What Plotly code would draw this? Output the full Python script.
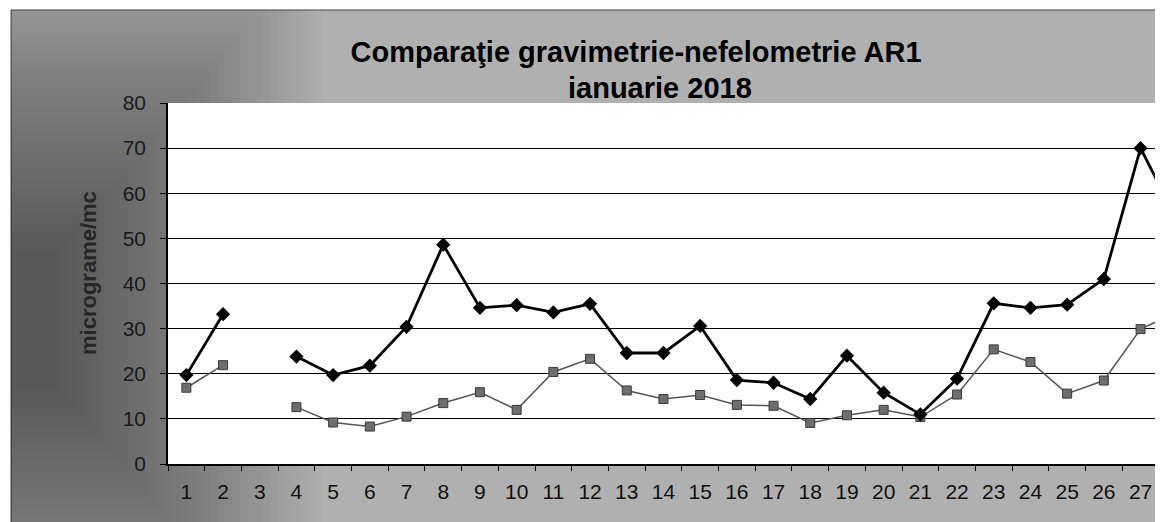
import plotly.graph_objects as go

days = list(range(1, 29))
gravimetrie = [19.7, 33.2, None, 23.8, 19.7, 21.8, 30.4, 48.6, 34.6, 35.2, 33.6, 35.5, 24.6, 24.6,
               30.6, 18.6, 18.0, 14.4, 24.0, 15.8, 11.0, 18.9, 35.6, 34.6, 35.3, 41.0, 70.0, 54.0]
nefelometrie = [16.9, 21.9, None, 12.6, 9.2, 8.3, 10.5, 13.5, 15.9, 12.0, 20.4, 23.3, 16.3, 14.4,
                15.3, 13.1, 12.9, 9.1, 10.8, 12.0, 10.4, 15.4, 25.4, 22.6, 15.6, 18.5, 29.9, 33.7]
y_ticks = [0, 10, 20, 30, 40, 50, 60, 70, 80]
title_line1 = "Comparaţie gravimetrie-nefelometrie AR1"
title_line2 = "ianuarie 2018"
y_title = "micrograme/mc"

OFF = 8  # page body margin
W, H = 1163 - OFF, 522 - OFF
L, R, T, B = 168 - OFF, 0, 103 - OFF, 58
PW, PH = W - L - R, H - T - B


def px(x):
    return (x - OFF - L) / PW


def py(y):
    return (H - B - (y - OFF)) / PH


fig = go.Figure()
fig.add_trace(go.Scatter(
    x=days, y=nefelometrie, mode="lines+markers", name="nefelometrie",
    line=dict(color="#555555", width=1.5),
    marker=dict(symbol="square", size=9, color="#6e6e6e", line=dict(color="#3a3a3a", width=1)),
    connectgaps=False))
fig.add_trace(go.Scatter(
    x=days, y=gravimetrie, mode="lines+markers", name="gravimetrie",
    line=dict(color="#000000", width=2.8),
    marker=dict(symbol="diamond", size=11, color="#000000"),
    connectgaps=False))

shapes = []
shapes.append(dict(type="rect", xref="paper", yref="paper", x0=px(11), x1=px(1175), y0=py(540), y1=py(10),
                   fillcolor="#b0b0b0", line=dict(color="#444444", width=1), layer="below"))
N = 36
for k in range(N):
    a = 30 + 7.5 * k
    b = 70 + 9 * k
    cx, cy = 30, 320
    shapes.append(dict(type="rect", xref="paper", yref="paper",
                       x0=px(11), x1=px(cx + a), y0=py(min(cy + b, 540)), y1=py(max(cy - b, 10)),
                       fillcolor="black", opacity=0.017, line=dict(width=0), layer="below"))
shapes.append(dict(type="rect", xref="paper", yref="paper", x0=0, x1=1, y0=0, y1=1,
                   fillcolor="white", line=dict(width=0), layer="below"))

title_font = dict(size=29, color="#000000", family="Liberation Sans, Arial, sans-serif")
fig.update_layout(
    width=W, height=H,
    margin=dict(l=L, r=R, t=T, b=B),
    paper_bgcolor="white", plot_bgcolor="white",
    showlegend=False,
    shapes=shapes,
    font=dict(family="Liberation Sans, Arial, sans-serif", color="#111111"),
    title=dict(text="<b>" + title_line1 + "</b>", x=(636 - OFF) / W, xanchor="center", xref="container",
               y=1 - (52 - OFF) / H, yanchor="middle", yref="container", font=title_font),
    annotations=[
        dict(text="<b>" + title_line2 + "</b>", x=px(660), y=py(88), xref="paper", yref="paper",
             showarrow=False, xanchor="center", yanchor="middle", font=title_font),
        dict(text="<b>" + y_title + "</b>", x=px(88), y=py(273), xref="paper", yref="paper",
             textangle=-90, showarrow=False, xanchor="center", yanchor="middle",
             font=dict(size=22, color="#262626")),
    ],
)

fig.update_yaxes(
    range=[0, 80], tickvals=y_ticks, showgrid=False, zeroline=False,
    showline=True, linecolor="#000000", linewidth=1.5,
    ticks="outside", ticklen=6, tickcolor="#000000", tickwidth=1,
    ticklabelstandoff=10, tickfont=dict(size=21, color="#1a1a1a"),
    minor=dict(tickvals=y_ticks[1:-1], showgrid=True, gridcolor="#000000", gridwidth=1, ticks=""),
)
fig.update_xaxes(
    range=[0.5, 0.5 + PW / 36.7], tickvals=days, ticktext=[str(d) for d in days],
    showgrid=False, zeroline=False,
    showline=True, linecolor="#000000", linewidth=1.5,
    ticks="", ticklabelstandoff=8, tickfont=dict(size=21, color="#111111"),
    minor=dict(tickvals=[d + 0.5 for d in [0] + days], ticks="outside", ticklen=5,
               tickcolor="#000000", tickwidth=1, showgrid=False),
)

fig.write_html("out.html")
